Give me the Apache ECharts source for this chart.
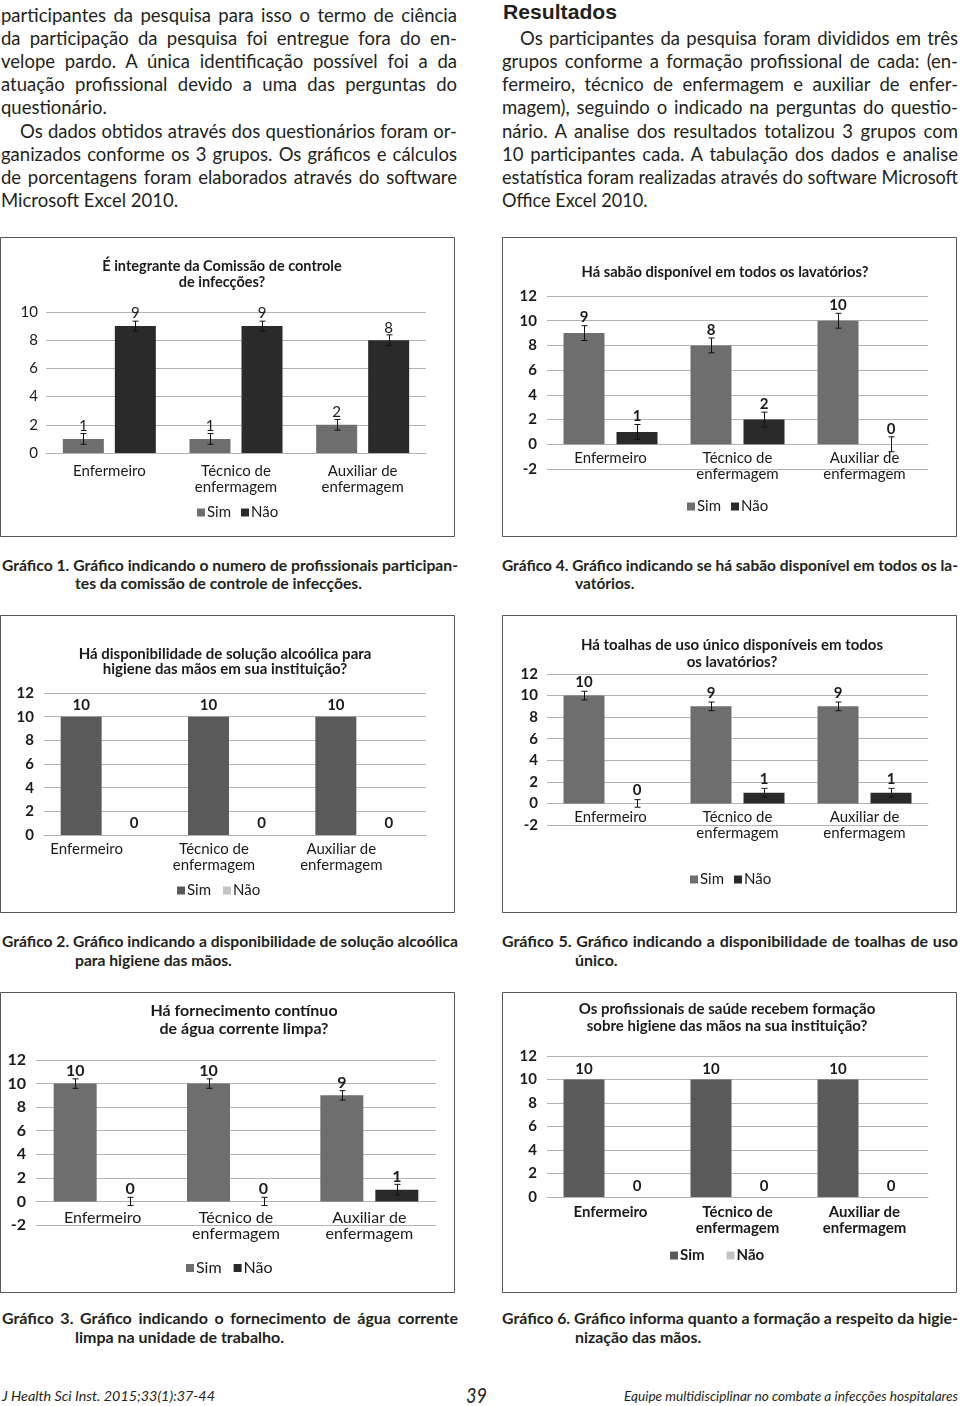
<!DOCTYPE html>
<html><head><meta charset="utf-8">
<script src="https://cdn.jsdelivr.net/npm/echarts@6/dist/echarts.min.js"></script>
<style>
html,body{margin:0;padding:0;background:#fff;}
#page{position:relative;width:960px;height:1406px;overflow:hidden;background:#fff;}
.ln{position:absolute;white-space:nowrap;color:#231f20;}
.body{font-family:Lato,'Open Sans',sans-serif;font-size:18.5px;line-height:23px;height:23px;}
.res{font-family:'Liberation Sans',Arial,sans-serif;font-weight:bold;font-size:21px;line-height:24px;height:24px;}
.cap{font-family:Lato,'Open Sans',sans-serif;font-weight:700;font-size:16px;line-height:18px;height:18px;}
.foot{font-family:Lato,'Open Sans',sans-serif;font-style:italic;font-size:14px;line-height:18px;height:18px;}
.pg{font-family:Lato,'Open Sans',sans-serif;font-style:italic;font-size:21px;line-height:24px;height:24px;}
.chart{position:absolute;}
</style></head>
<body><div id="page"></div>
<script>
// ---------------- DATA ----------------
const categories = ['Enfermeiro', 'Técnico de\nenfermagem', 'Auxiliar de\nenfermagem'];
const legendNames = ['Sim', 'Não'];

const c1Title = 'É integrante da Comissão de controle\nde infecções?';
const c1Sim = [1, 1, 2];
const c1Nao = [9, 9, 8];
const c1SimErr = [0.38, 0.38, 0.38];
const c1NaoErr = [0.35, 0.35, 0.38];
const c1YTicks = [0, 10, 2];

const c4Title = 'Há sabão disponível em todos os lavatórios?';
const c4Sim = [9, 8, 10];
const c4Nao = [1, 2, 0];
const c4SimErr = [0.6, 0.6, 0.6];
const c4NaoErr = [0.6, 0.6, 0.6];
const c4YTicks = [-2, 12, 2];

const c2Title = 'Há disponibilidade de solução alcoólica para\nhigiene das mãos em sua instituição?';
const c2Sim = [10, 10, 10];
const c2Nao = [0, 0, 0];
const c2SimErr = [0, 0, 0];
const c2NaoErr = [0, 0, 0];
const c2YTicks = [0, 12, 2];

const c5Title = 'Há toalhas de uso único disponíveis em todos\nos lavatórios?';
const c5Sim = [10, 9, 9];
const c5Nao = [0, 1, 1];
const c5SimErr = [0.4, 0.4, 0.4];
const c5NaoErr = [0.35, 0.4, 0.4];
const c5YTicks = [-2, 12, 2];

const c3Title = 'Há fornecimento contínuo\nde água corrente limpa?';
const c3Sim = [10, 10, 9];
const c3Nao = [0, 0, 1];
const c3SimErr = [0.4, 0.4, 0.4];
const c3NaoErr = [0.35, 0.35, 0.45];
const c3YTicks = [-2, 12, 2];

const c6Title = 'Os profissionais de saúde recebem formação\nsobre higiene das mãos na sua instituição?';
const c6Sim = [10, 10, 10];
const c6Nao = [0, 0, 0];
const c6SimErr = [0, 0, 0];
const c6NaoErr = [0, 0, 0];
const c6YTicks = [0, 12, 2];

// ---------------- PAGE TEXT ----------------
const textLines = [
  // class, x, centerY, width, mode, text
  ['body', 1, 15, 456, 'j', 'participantes da pesquisa para isso o termo de ciência'],
  ['body', 1, 38.2, 456, 'j', 'da participação da pesquisa foi entregue fora do en-'],
  ['body', 1, 61.4, 456, 'j', 'velope pardo. A única identificação possível foi a da'],
  ['body', 1, 84.6, 456, 'j', 'atuação profissional devido a uma das perguntas do'],
  ['body', 1, 107.8, 0, 'l', 'questionário.'],
  ['body', 20, 131, 437, 'j', 'Os dados obtidos através dos questionários foram or-'],
  ['body', 1, 154.2, 456, 'j', 'ganizados conforme os 3 grupos. Os gráficos e cálculos'],
  ['body', 1, 177.4, 456, 'j', 'de porcentagens foram elaborados através do software'],
  ['body', 1, 200.6, 0, 'l', 'Microsoft Excel 2010.'],
  ['res', 503, 12, 114, 's', 'Resultados'],
  ['body', 520, 38.2, 438, 'j', 'Os participantes da pesquisa foram divididos em três'],
  ['body', 502, 61.4, 456, 'j', 'grupos conforme a formação profissional de cada: (en-'],
  ['body', 502, 84.6, 456, 'j', 'fermeiro, técnico de enfermagem e auxiliar de enfer-'],
  ['body', 502, 107.8, 456, 'j', 'magem), seguindo o indicado na perguntas do questio-'],
  ['body', 502, 131, 456, 'j', 'nário. A analise dos resultados totalizou 3 grupos com'],
  ['body', 502, 154.2, 456, 'j', '10 participantes cada. A tabulação dos dados e analise'],
  ['body', 502, 177.4, 456, 'j', 'estatística foram realizadas através do software Microsoft'],
  ['body', 502, 200.6, 0, 'l', 'Office Excel 2010.'],
  ['cap', 2, 565, 456, 'j', 'Gráfico 1. Gráfico indicando o numero de profissionais participan-'],
  ['cap', 75, 583, 0, 'l', 'tes da comissão de controle de infecções.'],
  ['cap', 502, 565, 456, 'j', 'Gráfico 4. Gráfico indicando se há sabão disponível em todos os la-'],
  ['cap', 575, 583, 0, 'l', 'vatórios.'],
  ['cap', 2, 941, 456, 'j', 'Gráfico 2. Gráfico indicando a disponibilidade de solução alcoólica'],
  ['cap', 75, 960, 0, 'l', 'para higiene das mãos.'],
  ['cap', 502, 941, 456, 'j', 'Gráfico 5. Gráfico indicando a disponibilidade de toalhas de uso'],
  ['cap', 575, 960, 0, 'l', 'único.'],
  ['cap', 2, 1318, 456, 'j', 'Gráfico 3. Gráfico indicando o fornecimento de água corrente'],
  ['cap', 75, 1337, 0, 'l', 'limpa na unidade de trabalho.'],
  ['cap', 502, 1318, 456, 'j', 'Gráfico 6. Gráfico informa quanto a formação a respeito da higie-'],
  ['cap', 575, 1337, 0, 'l', 'nização das mãos.'],
  ['foot', 2, 1396, 213, 's', 'J Health Sci Inst. 2015;33(1):37-44'],
  ['pg', 466, 1395, 21, 's', '39'],
  ['foot', 624, 1396, 334, 's', 'Equipe multidisciplinar no combate a infecções hospitalares']
];

const page = document.getElementById('page');
let lastScale = 1;
for (const [cls, x, cy, w, mode, text] of textLines) {
  const d = document.createElement('div');
  d.className = 'ln ' + cls;
  d.textContent = text;
  d.style.left = x + 'px';
  page.appendChild(d);
  const lh = parseFloat(getComputedStyle(d).lineHeight);
  d.style.top = (cy - lh / 2) + 'px';
  const nat = d.getBoundingClientRect().width;
  let s = 1;
  if (mode === 'j') {
    if (nat > w) { s = w / nat; }
    else { d.style.width = w + 'px'; d.style.textAlign = 'justify'; d.style.textAlignLast = 'justify'; }
    lastScale = s;
  } else if (mode === 'l') {
    s = lastScale;
  } else if (mode === 's') {
    s = w / nat;
  }
  if (s !== 1) { d.style.transformOrigin = '0 50%'; d.style.transform = 'scaleX(' + s + ')'; }
}

// ---------------- CHARTS ----------------
const FONT = 'Lato, "Open Sans", sans-serif';
const TXT = '#1a1a1a';
const GRIDC = '#b3b3b3';

function makeChart(box, d, s) {
  const el = document.createElement('div');
  el.className = 'chart';
  el.style.left = box[0] + 'px'; el.style.top = box[1] + 'px';
  el.style.width = box[2] + 'px'; el.style.height = box[3] + 'px';
  page.appendChild(el);
  const ch = echarts.init(el, null, { renderer: 'canvas' });
  const off = (s.barWidth + s.gap) / 2;
  // category axis sits on the zero line (Excel style): shift it up from the grid bottom
  const zeroShift = d.y[0] < 0 ? -s.grid[3] * (-d.y[0]) / (d.y[1] - d.y[0]) : 0;
  const errSeries = (vals, errs, o) => ({
    type: 'custom', silent: true, z: 5,
    data: vals.map((v, i) => [i, v, errs[i]]),
    encode: { x: 0, y: 1 },
    renderItem: (p, api) => {
      const e = api.value(2);
      if (!e) return null;
      const i = api.value(0), v = api.value(1);
      const t = api.coord([i, v + e]);
      const b = api.coord([i, v - e]);
      const cx = Math.round(t[0] + o) + 0.5;
      const hw = 3;
      const st = { stroke: '#111', lineWidth: 1 };
      return { type: 'group', children: [
        { type: 'line', shape: { x1: cx, y1: t[1], x2: cx, y2: b[1] }, style: st },
        { type: 'line', shape: { x1: cx - hw, y1: t[1], x2: cx + hw, y2: t[1] }, style: st },
        { type: 'line', shape: { x1: cx - hw, y1: b[1], x2: cx + hw, y2: b[1] }, style: st }
      ] };
    }
  });
  const lbl = {
    show: true, position: 'top', distance: s.labelDist,
    fontSize: s.labelSize, fontWeight: s.labelWeight, color: TXT, fontFamily: FONT
  };
  const option = {
    animation: false,
    backgroundColor: '#fff',
    textStyle: { fontFamily: FONT },
    graphic: [
      { type: 'rect', silent: true, shape: { x: 0.5, y: 0.5, width: box[2] - 1, height: box[3] - 1 },
        style: { fill: 'none', stroke: '#555', lineWidth: 1 } },
      { type: 'text', silent: true, x: s.titleX, y: s.titleCY - s.titleLH / 2,
        style: { text: d.title, textAlign: 'center', textVerticalAlign: 'top',
                 fontSize: s.titleSize, fontWeight: 'bold', fontFamily: FONT,
                 lineHeight: s.titleLH, fill: TXT } }
    ],
    legend: {
      data: legendNames, left: s.legendLeft, top: s.legendTop, icon: 'rect',
      itemWidth: 8, itemHeight: 8, itemGap: s.legendGap, padding: 0,
      textStyle: { fontSize: s.legendSize, fontWeight: s.legendWeight, color: TXT, fontFamily: FONT, padding: [0, 0, 0, -3] }
    },
    grid: { left: s.grid[0], top: s.grid[1], width: s.grid[2], height: s.grid[3], containLabel: false, outerBoundsMode: 'none' },
    xAxis: {
      type: 'category', data: categories, offset: zeroShift,
      axisLine: { show: true, onZero: false, lineStyle: { color: GRIDC, width: 1 } },
      axisTick: { show: false }, splitLine: { show: false },
      axisLabel: { interval: 0, fontSize: s.xSize, fontWeight: s.xWeight, color: TXT, fontFamily: FONT,
                   margin: s.xMargin, lineHeight: s.xLH, padding: s.xPad || 0 }
    },
    yAxis: {
      type: 'value', min: d.y[0], max: d.y[1], interval: d.y[2],
      axisLine: { show: false }, axisTick: { show: false },
      axisLabel: { fontSize: s.ySize, fontWeight: s.yWeight, color: TXT, fontFamily: FONT, margin: s.yMargin },
      splitLine: { lineStyle: { color: GRIDC, width: 1 } }
    },
    series: [
      { name: 'Sim', type: 'bar', data: d.sim, barWidth: s.barWidth, barGap: (s.gap / s.barWidth * 100) + '%',
        itemStyle: { color: s.simColor }, label: lbl },
      { name: 'Não', type: 'bar', data: d.nao, barWidth: s.barWidth, barGap: (s.gap / s.barWidth * 100) + '%',
        itemStyle: { color: s.naoColor }, label: lbl },
      errSeries(d.sim, d.simErr, -off),
      errSeries(d.nao, d.naoErr, off)
    ]
  };
  ch.setOption(option);
}

const SIM = '#6e6e6e', NAO = '#2a2a2a', SIM2 = '#5a5a5a', NAO2 = '#c4c4c4';

makeChart([0, 237, 455, 300],
  { title: c1Title, sim: c1Sim, nao: c1Nao, simErr: c1SimErr, naoErr: c1NaoErr, y: c1YTicks },
  { titleX: 222, titleCY: 29, titleLH: 16, titleSize: 14.5, grid: [46, 75, 380, 141],
    ySize: 15, yWeight: 'normal', yMargin: 8, xSize: 15, xWeight: 'normal', xMargin: 10, xLH: 16,
    barWidth: 41, gap: 11, labelDist: 5, labelSize: 15, labelWeight: 'normal',
    simColor: SIM, naoColor: NAO, legendLeft: 197, legendTop: 268, legendGap: 10, legendSize: 15, legendWeight: 'normal' });

makeChart([502, 237, 455, 300],
  { title: c4Title, sim: c4Sim, nao: c4Nao, simErr: c4SimErr, naoErr: c4NaoErr, y: c4YTicks },
  { titleX: 223, titleCY: 35, titleLH: 16, titleSize: 14.7, grid: [45, 59, 381, 173],
    ySize: 15, yWeight: 'bold', yMargin: 10, xSize: 15, xWeight: 'normal', xMargin: 6, xLH: 16,
    barWidth: 41, gap: 12, labelDist: 8, labelSize: 15, labelWeight: 'bold',
    simColor: SIM, naoColor: NAO, legendLeft: 185, legendTop: 262, legendGap: 10, legendSize: 15, legendWeight: 'normal' });

makeChart([0, 615, 455, 298],
  { title: c2Title, sim: c2Sim, nao: c2Nao, simErr: c2SimErr, naoErr: c2NaoErr, y: c2YTicks },
  { titleX: 225, titleCY: 39, titleLH: 15.5, titleSize: 15, grid: [44, 78, 382, 142],
    ySize: 15, yWeight: 'bold', yMargin: 10, xSize: 15, xWeight: 'normal', xMargin: 6, xLH: 16, xPad: [0, 42, 0, 0],
    barWidth: 41, gap: 12, labelDist: 4, labelSize: 15, labelWeight: 'bold',
    simColor: SIM2, naoColor: NAO2, legendLeft: 177, legendTop: 268, legendGap: 12, legendSize: 15, legendWeight: 'normal' });

makeChart([502, 615, 455, 298],
  { title: c5Title, sim: c5Sim, nao: c5Nao, simErr: c5SimErr, naoErr: c5NaoErr, y: c5YTicks },
  { titleX: 230, titleCY: 30, titleLH: 17, titleSize: 15, grid: [45, 59, 381, 151],
    ySize: 15, yWeight: 'bold', yMargin: 9, xSize: 15, xWeight: 'normal', xMargin: 6, xLH: 16,
    barWidth: 41, gap: 12, labelDist: 6, labelSize: 15, labelWeight: 'bold',
    simColor: SIM, naoColor: NAO, legendLeft: 188, legendTop: 257, legendGap: 10, legendSize: 15, legendWeight: 'normal' });

makeChart([0, 992, 455, 301],
  { title: c3Title, sim: c3Sim, nao: c3Nao, simErr: c3SimErr, naoErr: c3NaoErr, y: c3YTicks },
  { titleX: 244, titleCY: 19, titleLH: 18, titleSize: 16, grid: [36, 68, 400, 165],
    ySize: 16, yWeight: 'bold', yMargin: 10, xSize: 16, xWeight: 'normal', xMargin: 8, xLH: 16,
    barWidth: 43, gap: 12, labelDist: 5, labelSize: 16, labelWeight: 'bold',
    simColor: SIM, naoColor: NAO, legendLeft: 186, legendTop: 268, legendGap: 12, legendSize: 16, legendWeight: 'normal' });

makeChart([502, 992, 455, 301],
  { title: c6Title, sim: c6Sim, nao: c6Nao, simErr: c6SimErr, naoErr: c6NaoErr, y: c6YTicks },
  { titleX: 225, titleCY: 17, titleLH: 17, titleSize: 15, grid: [45, 64, 381, 141],
    ySize: 15, yWeight: 'bold', yMargin: 10, xSize: 15, xWeight: 'bold', xMargin: 7, xLH: 16,
    barWidth: 41, gap: 12, labelDist: 3, labelSize: 15, labelWeight: 'bold',
    simColor: SIM2, naoColor: NAO2, legendLeft: 168, legendTop: 256, legendGap: 22, legendSize: 15, legendWeight: 'bold' });
</script>
</body></html>
